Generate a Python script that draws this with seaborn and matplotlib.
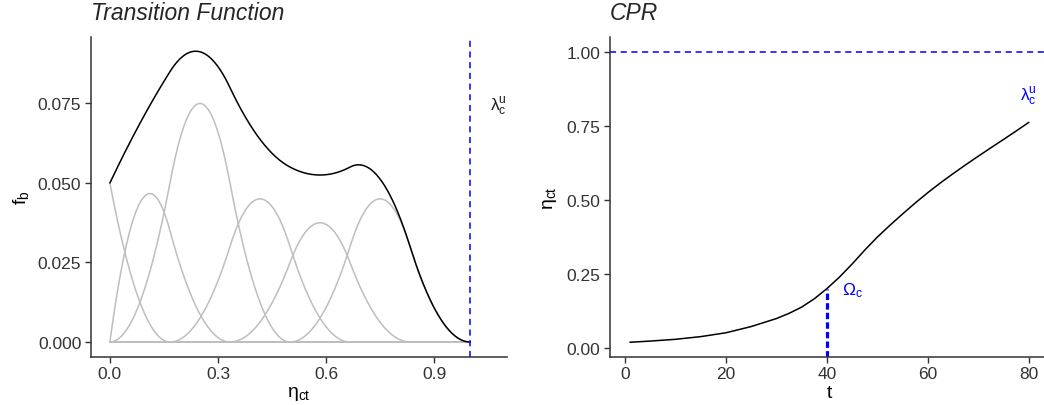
import numpy as np
import pandas as pd
import matplotlib
matplotlib.use("Agg")
import matplotlib.pyplot as plt
import seaborn as sns

# ---------------- data ----------------
# Quadratic B-spline basis (knots) and coefficients
spline_knots = [0, 0, 0, 1/6, 2/6, 3/6, 4/6, 5/6, 1, 1, 1]
spline_coefs = [0.05, 0.07, 0.10, 0.06, 0.05, 0.06, 0.0, 0.0]
spline_degree = 2
lambda_u = 1.0

# CPR curve
cpr_t = [1, 5, 10, 15, 20, 25, 30, 32.5, 35, 37.5, 40, 42.5, 45, 47.5, 50,
         52.5, 55, 57.5, 60, 62.5, 65, 67.5, 70, 72.5, 75, 77.5, 80]
cpr_eta = [0.019, 0.023, 0.029, 0.038, 0.051, 0.072, 0.099, 0.1165, 0.1376, 0.1656, 0.200,
           0.239, 0.283, 0.330, 0.374, 0.414, 0.452, 0.489, 0.524, 0.557, 0.588,
           0.618, 0.647, 0.6755, 0.7035, 0.732, 0.761]
omega_t = 40
omega_eta = 0.200

left_xticks = [0.0, 0.3, 0.6, 0.9]
left_yticks = [0.0, 0.025, 0.05, 0.075]
right_xticks = [0, 20, 40, 60, 80]
right_yticks = [0.0, 0.25, 0.5, 0.75, 1.0]


def bspline_basis(x, knots, i, k):
    knots = np.asarray(knots, float)
    if k == 0:
        lo, hi = knots[i], knots[i + 1]
        if hi == knots[-1] and lo < hi:
            return ((x >= lo) & (x <= hi)).astype(float)
        return ((x >= lo) & (x < hi)).astype(float)
    out = np.zeros_like(x)
    d1 = knots[i + k] - knots[i]
    if d1 > 0:
        out += (x - knots[i]) / d1 * bspline_basis(x, knots, i, k - 1)
    d2 = knots[i + k + 1] - knots[i + 1]
    if d2 > 0:
        out += (knots[i + k + 1] - x) / d2 * bspline_basis(x, knots, i + 1, k - 1)
    return out


xg = np.linspace(0, 1, 401)
rows = []
total = np.zeros_like(xg)
for i, c in enumerate(spline_coefs):
    b = c * bspline_basis(xg, spline_knots, i, spline_degree)
    total += b
    rows.append(pd.DataFrame({"x": xg, "y": b, "basis": i}))
basis_df = pd.concat(rows, ignore_index=True)
total_df = pd.DataFrame({"x": xg, "y": total})
cpr_df = pd.DataFrame({"t": cpr_t, "eta": cpr_eta})

# ---------------- style ----------------
sns.set_theme(style="ticks")
plt.rcParams["font.family"] = ["Liberation Sans", "DejaVu Sans"]
plt.rcParams["mathtext.fontset"] = "custom"
plt.rcParams["mathtext.rm"] = "Liberation Sans"
plt.rcParams["mathtext.it"] = "Liberation Sans:italic"
plt.rcParams["mathtext.sf"] = "Liberation Sans"

axis_col = "#333333"
tick_col = "#333333"

fig = plt.figure(figsize=(10.44, 4.06), dpi=100)
W, H = 1044, 406
top_px, bot_px = 38, 357.5
axL = fig.add_axes([91 / W, 1 - bot_px / H, (507 - 91) / W, (bot_px - top_px) / H])
axR = fig.add_axes([610 / W, 1 - bot_px / H, (1048.8 - 610) / W, (bot_px - top_px) / H])

# ---- left panel ----
for i in range(len(spline_coefs)):
    sns.lineplot(data=basis_df[basis_df["basis"] == i], x="x", y="y", ax=axL,
                 color="#BEBEBE", linewidth=1.1, estimator=None, sort=False)
sns.lineplot(data=total_df, x="x", y="y", ax=axL, color="black", linewidth=1.1,
             estimator=None, sort=False)
axL.axvline(lambda_u, color="blue", linewidth=1.1, linestyle=(0, (4, 3)))
axL.text(1.078, 0.0742, r"$\mathrm{\lambda}_{\mathrm{c}}^{\mathrm{u}}$", ha="center", va="center",
         fontsize=12.5, color="#1a1a1a")
axL.set_xlim(-0.0525, 1.1025)
axL.set_ylim(-0.00456, 0.0959)
axL.set_xticks(left_xticks)
axL.set_xticklabels([f"{v:.1f}" for v in left_xticks])
axL.set_yticks(left_yticks)
axL.set_yticklabels([f"{v:.3f}" for v in left_yticks])
axL.set_xlabel(r"$\mathrm{\eta}_{\mathrm{ct}}$", fontsize=14, labelpad=2)
axL.set_ylabel(r"$\mathrm{f}_{\mathrm{b}}$", fontsize=14, labelpad=5)
axL.set_title("Transition Function", fontsize=16.5, style="italic", loc="left", pad=13)

# ---- right panel ----
sns.lineplot(data=cpr_df, x="t", y="eta", ax=axR, color="black", linewidth=1.1,
             estimator=None, sort=False)
axR.axhline(1.0, color="blue", linewidth=1.1, linestyle=(0, (4, 3)))
axR.plot([omega_t, omega_t], [-0.03, omega_eta], color="blue", linewidth=2.3,
         linestyle=(0, (2.0, 1.0)))
axR.text(omega_t + 5, omega_eta - 0.004, r"$\mathrm{\Omega}_{\mathrm{c}}$", ha="center",
         va="center", fontsize=12.5, color="blue")
axR.text(80, 0.85, r"$\mathrm{\lambda}_{\mathrm{c}}^{\mathrm{u}}$", ha="center", va="center",
         fontsize=12.5, color="blue")
axR.set_xlim(-2.95, 83.95)
axR.set_ylim(-0.029, 1.049)
axR.set_xticks(right_xticks)
axR.set_xticklabels([str(v) for v in right_xticks])
axR.set_yticks(right_yticks)
axR.set_yticklabels([f"{v:.2f}" for v in right_yticks])
axR.set_xlabel("t", fontsize=14, labelpad=2)
axR.set_ylabel(r"$\mathrm{\eta}_{\mathrm{ct}}$", fontsize=14, labelpad=5)
axR.set_title("CPR", fontsize=16.5, style="italic", loc="left", pad=13)

for ax in (axL, axR):
    sns.despine(ax=ax)
    for s in ("left", "bottom"):
        ax.spines[s].set_color(axis_col)
        ax.spines[s].set_linewidth(1.1)
    ax.tick_params(axis="both", colors=axis_col, labelcolor=tick_col, labelsize=12.5,
                   length=4, width=1.0, pad=3)
    ax.xaxis.label.set_color("black")
    ax.yaxis.label.set_color("black")

fig.savefig("out.png", dpi=100)
